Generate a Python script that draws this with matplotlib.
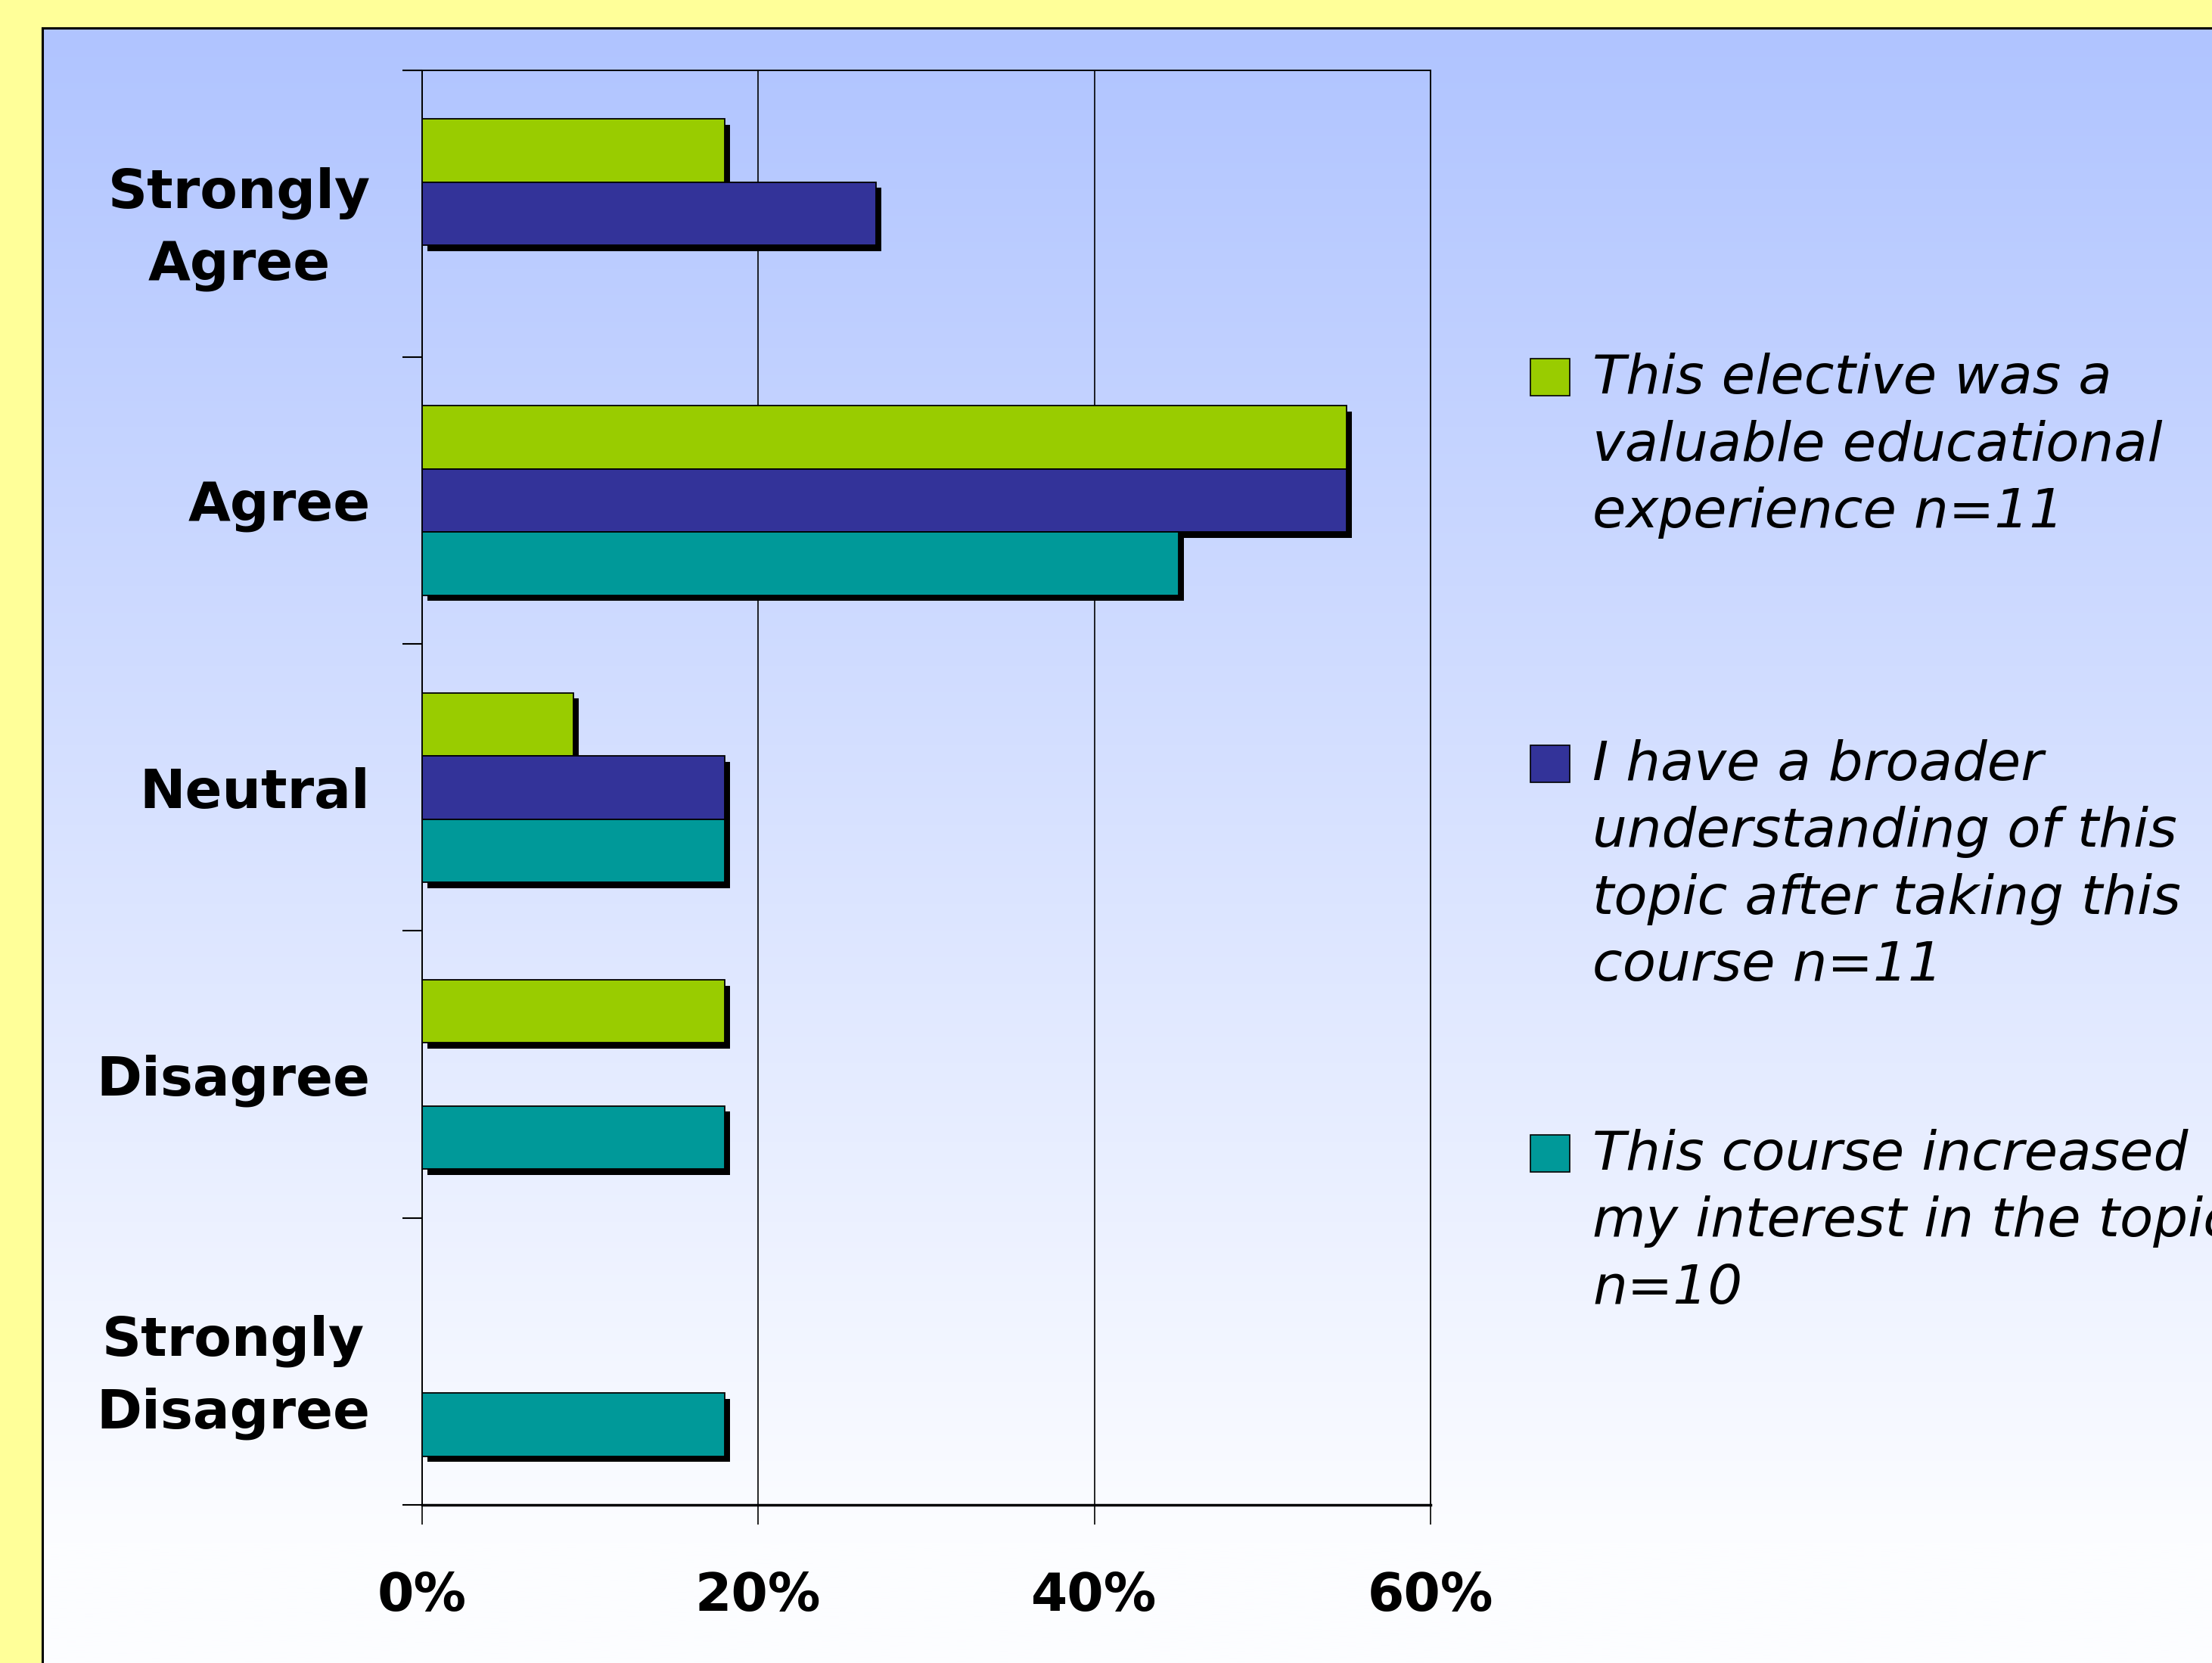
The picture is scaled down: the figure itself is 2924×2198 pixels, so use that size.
import numpy as np
import matplotlib.pyplot as plt
import matplotlib.patheffects as pe

# survey answers, share of respondents
categories = ['Strongly\nAgree', 'Agree', 'Neutral', 'Disagree', 'Strongly\nDisagree']
valuable = [0.18, 0.55, 0.09, 0.18, 0.0]      # n=11
broader = [0.27, 0.55, 0.18, 0.0, 0.0]        # n=11
interest = [0.0, 0.45, 0.18, 0.18, 0.18]      # n=10
series_labels = ['This elective was a\nvaluable educational\nexperience n=11',
                 'I have a broader\nunderstanding of this\ntopic after taking this\ncourse n=11',
                 'This course increased\nmy interest in the topic\nn=10']
colors = ['#99CC00', '#333399', '#009999']
xticks = [0.0, 0.2, 0.4, 0.6]
xticklabels = ['0%', '20%', '40%', '60%']

W, H = 2924, 2198
fig = plt.figure(figsize=(W/100, H/100), dpi=100)
fig.patch.set_facecolor('#FFFF99')

# background panel with vertical gradient (pixel coords)
bg = fig.add_axes([0, 0, 1, 1], zorder=-1)
bg.set_xlim(0, W)
bg.set_ylim(H, 0)
bg.axis('off')
top = np.array([176, 196, 255]) / 255.0
bot = np.array([252, 253, 255]) / 255.0
t = np.clip(np.linspace(0, 1, 400) * 1.08, 0, 1)[:, None]
grad = (top[None, :] * (1 - t) + bot[None, :] * t)[:, None, :]
bg.imshow(grad, extent=(56, W, H, 37), aspect='auto', interpolation='bilinear')
bg.plot([56, 56], [H, 37], color='black', lw=2.2, solid_capstyle='projecting')
bg.plot([56, W], [37, 37], color='black', lw=2.2, solid_capstyle='projecting')

ax = fig.add_axes([557.6/W, 1 - 1989/H, (1891 - 557.6)/W, (1989 - 92.7)/H])
ax.patch.set_visible(False)

y = np.arange(len(categories))
h = 0.22
shadow = [pe.SimplePatchShadow(offset=(5, -5.5), shadow_rgbFace='black', alpha=1.0), pe.Normal()]
for i, (vals, c) in enumerate(zip([valuable, broader, interest], colors)):
    vals = np.array(vals)
    pos = y + (i - 1) * h
    m = vals > 0
    ax.barh(pos[m], vals[m], height=h, color=c, edgecolor='black', lw=1.3,
            path_effects=shadow, zorder=3)

ax.set_xlim(0, 0.6)
ax.set_ylim(len(categories) - 0.5, -0.5)

ax.set_xticks(xticks)
ax.set_xticklabels(xticklabels, fontsize=50, fontweight='bold')
ax.tick_params(axis='x', length=18.7, width=1.2, pad=44)
ax.xaxis.grid(True, color='black', lw=1.2)
ax.set_axisbelow(True)

ax.set_yticks(np.arange(len(categories) + 1) - 0.5)
ax.set_yticklabels([])
ax.set_yticks(y, minor=True)
ax.set_yticklabels(categories, minor=True, fontsize=52, fontweight='bold', linespacing=1.48)
for lbl in ax.get_yticklabels(minor=True):
    lbl.set_multialignment('center')
ax.tick_params(axis='y', which='major', length=18.7, width=1.5)
ax.tick_params(axis='y', which='minor', length=0, pad=49)

for s in ['left', 'top', 'right']:
    ax.spines[s].set_linewidth(1.4)
ax.spines['bottom'].set_linewidth(2.5)

# legend drawn by hand, entries spread out like the original
leg_y = [474, 985, 1500]
for lab, c, ly in zip(series_labels, colors, leg_y):
    bg.add_patch(plt.Rectangle((2023, ly), 52, 49, facecolor=c, edgecolor='black', lw=1.2))
    bg.text(2105, ly - 8, lab, fontsize=52, fontstyle='italic', va='top', ha='left',
            linespacing=1.36)

plt.savefig('out.png', dpi=100)
